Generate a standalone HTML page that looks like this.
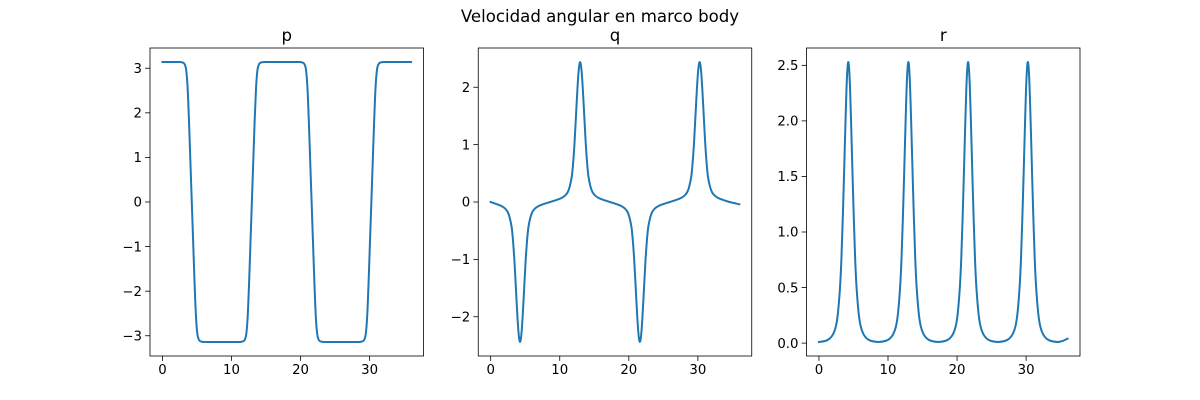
<!DOCTYPE html>
<html><head><meta charset="utf-8"><title>Velocidad angular en marco body</title>
<style>html,body{margin:0;padding:0;background:#fff;}svg{display:block;font-family:"DejaVu Sans","Liberation Sans",sans-serif;}</style>
</head><body>
<svg id="fig" width="1200" height="400" viewBox="0 0 1200 400">
<text x="600" y="22" text-anchor="middle" font-size="16.6" fill="#000">Velocidad angular en marco body</text>
</svg>
<script>
const tVals = [0,
0.95,1.55,2.05,2.45,2.75,3.05,3.25,3.45,3.65,3.85,4.05,4.25,4.45,4.65,4.85,5.05,5.25,5.45,5.75,6.05,6.45,6.95,7.55,8.6,
9.65,10.25,10.75,11.15,11.45,11.75,11.95,12.15,12.35,12.55,12.75,12.95,13.15,13.35,13.55,13.75,13.95,14.15,14.45,14.75,15.15,15.65,16.25,17.275,
18.3,18.9,19.4,19.8,20.1,20.4,20.6,20.8,21.0,21.2,21.4,21.6,21.8,22.0,22.2,22.4,22.6,22.8,23.1,23.4,23.8,24.3,24.9,25.925,
26.95,27.55,28.05,28.45,28.75,29.05,29.25,29.45,29.65,29.85,30.05,30.25,30.45,30.65,30.85,31.05,31.25,31.45,31.75,32.05,32.45,32.95,33.55,34.575,
35.3,36.0];
const pVals = [3.14,
3.14,3.14,3.14,3.14,3.135,3.12,3.08,2.95,2.55,1.8,0.9,0,-0.9,-1.8,-2.55,-2.95,-3.08,-3.12,-3.135,-3.14,-3.14,-3.14,-3.14,-3.14,
-3.14,-3.14,-3.14,-3.14,-3.135,-3.12,-3.08,-2.95,-2.55,-1.8,-0.9,0,0.9,1.8,2.55,2.95,3.08,3.12,3.135,3.14,3.14,3.14,3.14,3.14,
3.14,3.14,3.14,3.14,3.135,3.12,3.08,2.95,2.55,1.8,0.9,0,-0.9,-1.8,-2.55,-2.95,-3.08,-3.12,-3.135,-3.14,-3.14,-3.14,-3.14,-3.14,
-3.14,-3.14,-3.14,-3.14,-3.135,-3.12,-3.08,-2.95,-2.55,-1.8,-0.9,0,0.9,1.8,2.55,2.95,3.08,3.12,3.135,3.14,3.14,3.14,3.14,3.14,
3.14,3.14];
const qVals = [0,
-0.04,-0.07,-0.11,-0.17,-0.27,-0.45,-0.7,-1.05,-1.5,-1.95,-2.3,-2.44,-2.3,-1.95,-1.5,-1.05,-0.7,-0.45,-0.27,-0.17,-0.11,-0.07,-0.04,0,
0.04,0.07,0.11,0.17,0.27,0.45,0.7,1.05,1.5,1.95,2.3,2.44,2.3,1.95,1.5,1.05,0.7,0.45,0.27,0.17,0.11,0.07,0.04,0,
-0.04,-0.07,-0.11,-0.17,-0.27,-0.45,-0.7,-1.05,-1.5,-1.95,-2.3,-2.44,-2.3,-1.95,-1.5,-1.05,-0.7,-0.45,-0.27,-0.17,-0.11,-0.07,-0.04,0,
0.04,0.07,0.11,0.17,0.27,0.45,0.7,1.05,1.5,1.95,2.3,2.44,2.3,1.95,1.5,1.05,0.7,0.45,0.27,0.17,0.11,0.07,0.04,0,
-0.02,-0.04];
const rVals = [0.01,
0.02,0.04,0.08,0.15,0.27,0.5,0.75,1.12,1.55,2.0,2.38,2.53,2.38,2.0,1.55,1.12,0.75,0.5,0.27,0.15,0.08,0.04,0.02,0.01,
0.02,0.04,0.08,0.15,0.27,0.5,0.75,1.12,1.55,2.0,2.38,2.53,2.38,2.0,1.55,1.12,0.75,0.5,0.27,0.15,0.08,0.04,0.02,0.01,
0.02,0.04,0.08,0.15,0.27,0.5,0.75,1.12,1.55,2.0,2.38,2.53,2.38,2.0,1.55,1.12,0.75,0.5,0.27,0.15,0.08,0.04,0.02,0.01,
0.02,0.04,0.08,0.15,0.27,0.5,0.75,1.12,1.55,2.0,2.38,2.53,2.38,2.0,1.55,1.12,0.75,0.5,0.27,0.15,0.08,0.04,0.02,0.01,
0.02,0.04];
const xTicks = [0,10,20,30];
const pTicks = [-3,-2,-1,0,1,2,3];
const pTickLabels = ["\u22123","\u22122","\u22121","0","1","2","3"];
const qTicks = [-2,-1,0,1,2];
const qTickLabels = ["\u22122","\u22121","0","1","2"];
const rTicks = [0,0.5,1,1.5,2,2.5];
const rTickLabels = ["0.0","0.5","1.0","1.5","2.0","2.5"];
const titles = ["p","q","r"];

const NS = "http://www.w3.org/2000/svg";
const svg = document.getElementById('fig');
function mk(tag, attrs, parent){
  const e = document.createElementNS(NS, tag);
  for (const k in attrs) e.setAttribute(k, attrs[k]);
  (parent||svg).appendChild(e); return e;
}
function extent(a){let mn=Infinity,mx=-Infinity;for(const v of a){if(v<mn)mn=v;if(v>mx)mx=v;}const m=(mx-mn)*0.05;return [mn-m,mx+m];}
function smoothPath(pts){
  let d = 'M'+pts[0][0].toFixed(2)+' '+pts[0][1].toFixed(2);
  for (let i=0;i<pts.length-1;i++){
    const p0 = pts[Math.max(0,i-1)], p1 = pts[i], p2 = pts[i+1], p3 = pts[Math.min(pts.length-1,i+2)];
    const c1x = p1[0]+(p2[0]-p0[0])/6, c1y = p1[1]+(p2[1]-p0[1])/6;
    const c2x = p2[0]-(p3[0]-p1[0])/6, c2y = p2[1]-(p3[1]-p1[1])/6;
    d += 'C'+c1x.toFixed(2)+' '+c1y.toFixed(2)+' '+c2x.toFixed(2)+' '+c2y.toFixed(2)+' '+p2[0].toFixed(2)+' '+p2[1].toFixed(2);
  }
  return d;
}

const axW = 273.5, axTop = 48, axBot = 356;
const lefts = [150, 478.25, 806.5];
const series = [pVals, qVals, rVals];
const ticksY = [pTicks, qTicks, rTicks];
const ticksYL = [pTickLabels, qTickLabels, rTickLabels];
const names = ['p','q','r'];

for (let i=0;i<3;i++){
  const L = lefts[i];
  const [x0,x1] = extent(tVals);
  const [y0,y1] = extent(series[i]);
  const xs = v => L + (v-x0)/(x1-x0)*axW;
  const ys = v => axBot - (v-y0)/(y1-y0)*(axBot-axTop);
  const g = mk('g', {});
  
  
  const pts = tVals.map((t,k)=>[xs(t), ys(series[i][k])]);
  const clipId = 'clip'+i;
  const cp = mk('clipPath', {id:clipId}, g);
  mk('rect', {x:L, y:axTop, width:axW, height:axBot-axTop}, cp);
  const path = mk('path', {d:smoothPath(pts), fill:'none', stroke:'#1f77b4', 'stroke-width':2, 'stroke-linejoin':'round', 'stroke-linecap':'square', 'clip-path':'url(#'+clipId+')'}, g);
  
  
  const fr = mk('rect', {x:L, y:axTop, width:axW, height:axBot-axTop, fill:'none', stroke:'#000', 'stroke-width':0.8}, g);
  
  
  for (const v of xTicks){
    const x = xs(v);
    mk('line', {x1:x, y1:axBot, x2:x, y2:axBot+4.9, stroke:'#000', 'stroke-width':0.8}, g);
    const t = mk('text', {x:x, y:axBot+18, 'text-anchor':'middle', 'font-size':'13.3', fill:'#000'}, g);
    t.textContent = String(v);
    
    
  }
  ticksY[i].forEach((v,j)=>{
    const y = ys(v);
    mk('line', {x1:L-4.9, y1:y, x2:L, y2:y, stroke:'#000', 'stroke-width':0.8}, g);
    const t = mk('text', {x:L-8, y:y+4.7, 'text-anchor':'end', 'font-size':'13.3', fill:'#000'}, g);
    t.textContent = ticksYL[i][j];
    
    
  });
  const tt = mk('text', {x:L+axW/2, y:axTop-7, 'text-anchor':'middle', 'font-size':'16.6', fill:'#000'}, g);
  tt.textContent = titles[i];
  
  
}
</script>
</body></html>
